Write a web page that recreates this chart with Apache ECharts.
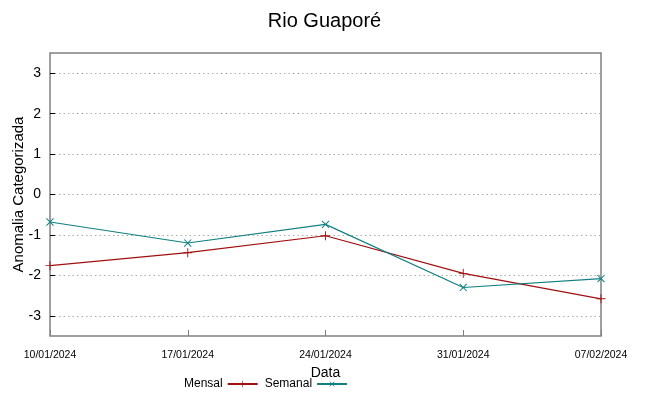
<!DOCTYPE html>
<html><head><meta charset="utf-8">
<script src="https://cdn.jsdelivr.net/npm/echarts@6/dist/echarts.min.js"></script>
<style>html,body{margin:0;padding:0;background:#fff}#c{width:649px;height:396px}</style>
</head><body><div id="c"></div>
<script>
const categories = ['10/01/2024','17/01/2024','24/01/2024','31/01/2024','07/02/2024'];
const mensal = [-1.76, -1.44, -1.02, -1.95, -2.58];
const semanal = [-0.68, -1.20, -0.74, -2.30, -2.08];
const yTicks = [-3, -2, -1, 0, 1, 2, 3];

const plus = 'path://M4.5,0H5.5V4.5H10V5.5H5.5V10H4.5V5.5H0V4.5H4.5Z';
const chart = echarts.init(document.getElementById('c'));
chart.setOption({
  animation: false,
  title: { text: 'Rio Guaporé', left: 'center', top: 6,
    textStyle: { fontFamily: 'Liberation Sans', fontSize: 20, fontWeight: 'normal', color: '#000' } },
  grid: { left: 50, right: 48, top: 53, bottom: 60, show: true, borderColor: '#808080', borderWidth: 1.5,
    outerBoundsMode: 'none', containLabel: false },
  legend: {
    top: 373, left: 179, align: 'right', itemWidth: 30, itemHeight: 8, itemGap: 6,
    textStyle: { fontFamily: 'Liberation Sans', fontSize: 12, color: '#000' },
    data: ['Mensal', 'Semanal']
  },
  xAxis: {
    type: 'category', data: categories, boundaryGap: false,
    name: 'Data', nameLocation: 'middle', nameGap: 26,
    nameTextStyle: { fontFamily: 'Liberation Sans', fontSize: 14, color: '#000' },
    axisLine: { show: false, onZero: false },
    axisTick: { show: true, inside: true, length: 6, lineStyle: { color: '#808080' } },
    axisLabel: { fontFamily: 'Liberation Sans', fontSize: 10.5, color: '#000', margin: 14,
      showMinLabel: true, showMaxLabel: true, interval: 0 },
    splitLine: { show: false }
  },
  yAxis: {
    type: 'value', min: -3.5, max: 3.5,
    name: 'Anomalia Categorizada', nameLocation: 'middle', nameGap: 24, nameMoveOverlap: false,
    nameTextStyle: { fontFamily: 'Liberation Sans', fontSize: 15, color: '#000' },
    axisLine: { show: false },
    axisTick: { show: true, inside: true, length: 5, customValues: yTicks, lineStyle: { color: '#000' } },
    axisLabel: { customValues: yTicks, fontFamily: 'Liberation Sans', fontSize: 14, color: '#000', margin: 9 },
    splitLine: { show: true, lineStyle: { color: '#aaaaaa', type: [1.5, 3], width: 1 } }
  },
  series: [
    { name: 'Mensal', type: 'line', data: mensal, symbol: plus, symbolSize: 9,
      lineStyle: { color: '#a01010', width: 1.2 }, itemStyle: { color: '#a01010' } },
    { name: 'Semanal', type: 'line', data: semanal, symbol: plus, symbolSize: 10, symbolRotate: 45,
      lineStyle: { color: '#108080', width: 1.2 }, itemStyle: { color: '#108080' } }
  ]
});
</script></body></html>
